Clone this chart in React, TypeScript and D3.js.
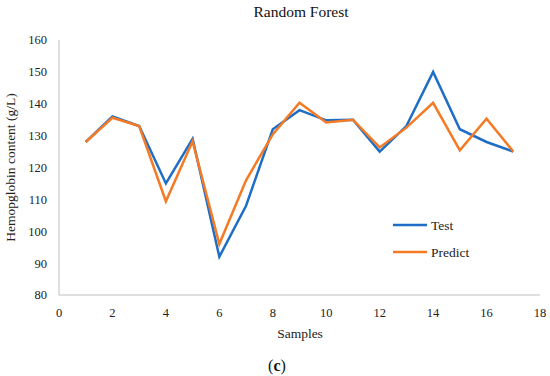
import React, { useRef, useEffect } from 'react';
import * as d3 from 'd3';

const samples = [1, 2, 3, 4, 5, 6, 7, 8, 9, 10, 11, 12, 13, 14, 15, 16, 17];
const testValues = [128, 136, 133, 115, 129, 92, 108, 132, 138, 134.8, 135, 125, 133, 150, 132, 128, 125];
const predictValues = [128, 135.6, 133, 109.4, 128.2, 96, 116, 130.4, 140.3, 134.1, 135, 126.3, 132.5, 140.3, 125.4, 135.3, 125];
const xTicks = [0, 2, 4, 6, 8, 10, 12, 14, 16, 18];
const yTicks = [80, 90, 100, 110, 120, 130, 140, 150, 160];
const seriesNames = ['Test', 'Predict'];
const seriesColors = ['#1f6ec6', '#f47a26'];

const width = 550;
const height = 376;
const fontFamily = '"Liberation Serif", "DejaVu Serif", serif';

const App = () => {
  const svgRef = useRef<SVGSVGElement>(null);

  useEffect(() => {
    const svg = d3.select(svgRef.current);
    svg.selectAll('*').remove();

    const margin = { top: 40, right: 10, bottom: 81, left: 59 };

    const xScale = d3.scaleLinear().domain([0, 18]).range([margin.left, 540]);
    const yScale = d3.scaleLinear().domain([80, 160]).range([height - margin.bottom, margin.top]);

    // title
    svg.append('text')
      .attr('x', 301)
      .attr('y', 12)
      .attr('dy', '0.35em')
      .attr('text-anchor', 'middle')
      .style('font-family', fontFamily)
      .style('font-size', '15.5px')
      .attr('fill', '#111')
      .text('Random Forest');

    // axes lines
    const axisColor = '#d4d4d4';
    svg.append('line')
      .attr('x1', xScale(0)).attr('x2', xScale(0))
      .attr('y1', yScale(160)).attr('y2', yScale(80))
      .attr('stroke', axisColor).attr('stroke-width', 1.5);
    svg.append('line')
      .attr('x1', xScale(0)).attr('x2', xScale(18))
      .attr('y1', yScale(80)).attr('y2', yScale(80))
      .attr('stroke', axisColor).attr('stroke-width', 1.5);

    // y tick labels
    svg.selectAll('.ytick')
      .data(yTicks)
      .join('text')
      .attr('class', 'ytick')
      .attr('x', 47)
      .attr('y', d => yScale(d))
      .attr('dy', '0.35em')
      .attr('text-anchor', 'end')
      .style('font-family', fontFamily)
      .style('font-size', '12.5px')
      .attr('fill', '#222')
      .text(d => d);

    // x tick labels
    svg.selectAll('.xtick')
      .data(xTicks)
      .join('text')
      .attr('class', 'xtick')
      .attr('x', d => xScale(d))
      .attr('y', 313)
      .attr('dy', '0.35em')
      .attr('text-anchor', 'middle')
      .style('font-family', fontFamily)
      .style('font-size', '12.5px')
      .attr('fill', '#222')
      .text(d => d);

    // axis titles
    svg.append('text')
      .attr('x', 300)
      .attr('y', 333)
      .attr('dy', '0.35em')
      .attr('text-anchor', 'middle')
      .style('font-family', fontFamily)
      .style('font-size', '13.5px')
      .attr('fill', '#222')
      .text('Samples');

    svg.append('text')
      .attr('transform', `translate(10, ${(yScale(80) + yScale(160)) / 2}) rotate(-90)`)
      .attr('dy', '0.35em')
      .attr('text-anchor', 'middle')
      .style('font-family', fontFamily)
      .style('font-size', '13.5px')
      .attr('fill', '#222')
      .text('Hemopglobin content (g/L)');

    const caption = svg.append('text')
      .attr('x', 277)
      .attr('y', 365)
      .attr('dy', '0.35em')
      .attr('text-anchor', 'middle')
      .style('font-family', fontFamily)
      .style('font-size', '16px')
      .attr('fill', '#111');
    caption.append('tspan').text('(');
    caption.append('tspan').style('font-weight', 'bold').text('c');
    caption.append('tspan').text(')');

    // lines
    const line = d3.line<number>()
      .x((_, i) => xScale(samples[i]))
      .y(d => yScale(d));

    [testValues, predictValues].forEach((values, i) => {
      svg.append('path')
        .datum(values)
        .attr('d', line)
        .attr('fill', 'none')
        .attr('stroke', seriesColors[i])
        .attr('stroke-width', 2.5)
        .attr('stroke-linejoin', 'miter');
    });

    // legend
    const legend = svg.append('g').attr('transform', 'translate(393, 225)');
    seriesNames.forEach((name, i) => {
      const row = legend.append('g').attr('transform', `translate(0, ${i * 27})`);
      row.append('line')
        .attr('x1', 0).attr('x2', 34)
        .attr('stroke', seriesColors[i])
        .attr('stroke-width', 2.5);
      row.append('text')
        .attr('x', 38)
        .attr('dy', '0.35em')
        .style('font-family', fontFamily)
        .style('font-size', '13.5px')
        .attr('fill', '#222')
        .text(name);
    });
  }, []);

  return (
    <div style={{ position: 'fixed', left: 0, top: 0 }}>
      <svg ref={svgRef} width={width} height={height} style={{ display: 'block', background: '#fff' }} />
    </div>
  );
};

export default App;
